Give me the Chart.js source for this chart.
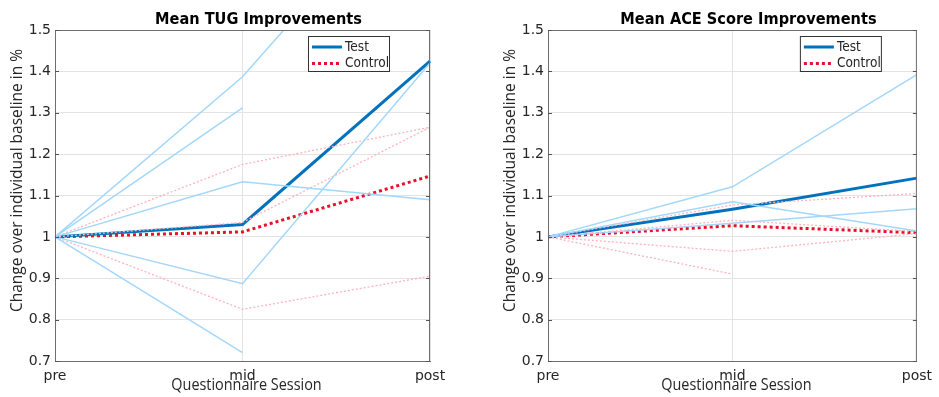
<!DOCTYPE html>
<html lang="en">
<head>
    <meta charset="UTF-8">
    <title>Mean TUG / ACE Improvements</title>
    <script src="https://cdn.jsdelivr.net/npm/chart.js"></script>
    <style>
        body { margin: 0; background: #fff; }
        .wrap { position: absolute; top: 0; height: 397px; }
        #left { left: 0; width: 470px; }
        #right { left: 470px; width: 469px; }
    </style>
</head>
<body>
    <div class="wrap" id="left"><canvas id="tugChart"></canvas></div>
    <div class="wrap" id="right"><canvas id="aceChart"></canvas></div>

    <script>
        // sessions on the x axis
        const sessions = ['pre', 'mid', 'post'];
        const yMin = 0.7, yMax = 1.5, yStep = 0.1;

        // TUG: group means
        const tugTestMean = [1, 1.03, 1.425];
        const tugControlMean = [1, 1.012, 1.147];
        // TUG: individual participants (null = missing session)
        const tugTestSubjects = [
            [1, 1.387, 1.9],
            [1, 1.312, null],
            [1, 1.133, 1.09],
            [1, 0.887, 1.42],
            [1, 0.72, null]
        ];
        const tugControlSubjects = [
            [1, 1.175, 1.265],
            [1, 1.035, 1.265],
            [1, 0.825, 0.905]
        ];

        // ACE: group means
        const aceTestMean = [1, 1.067, 1.142];
        const aceControlMean = [1, 1.027, 1.01];
        // ACE: individual participants
        const aceTestSubjects = [
            [1, 1.121, 1.392],
            [1, 1.085, 1.014],
            [1, 1.033, 1.068]
        ];
        const aceControlSubjects = [
            [1, 1.077, 1.105],
            [1, 1.04, 1.013],
            [1, 0.965, 1.008],
            [1, 0.91, null]
        ];

        const testColor = '#0072bd';
        const controlColor = '#e8102a';
        const testLight = '#a3d7fb';
        const controlLight = '#ffb3bd';
        const tickFont = 'DejaVu Sans';

        function buildDatasets(testMean, controlMean, testSubj, controlSubj) {
            const sets = [];
            testSubj.forEach(d => sets.push({
                label: '', data: d, borderColor: testLight, borderWidth: 1.5,
                pointRadius: 0, fill: false, tension: 0
            }));
            controlSubj.forEach(d => sets.push({
                label: '', data: d, borderColor: controlLight, borderWidth: 1.3,
                borderDash: [2, 2], pointRadius: 0, fill: false, tension: 0
            }));
            sets.push({
                label: 'Test', data: testMean, borderColor: testColor, borderWidth: 3,
                pointRadius: 0, fill: false, tension: 0
            });
            sets.push({
                label: 'Control', data: controlMean, borderColor: controlColor, borderWidth: 3,
                borderDash: [3, 3], pointRadius: 0, fill: false, tension: 0
            });
            return sets;
        }

        // text squeezed a little horizontally, like the original export
        function squeezedText(ctx, txt, x, y, sx) {
            ctx.save();
            ctx.translate(x, y);
            ctx.scale(sx, 1);
            ctx.fillText(txt, 0, 0);
            ctx.restore();
        }

        // draws title, axis labels, box, inward ticks and the legend (matlab style)
        const decorPlugin = {
            id: 'decor',
            afterDraw(chart, args, opts) {
                const ctx = chart.ctx;
                const a = chart.chartArea;
                const y = chart.scales.y;
                const cx = (a.left + a.right) / 2;
                ctx.save();

                // box
                ctx.strokeStyle = '#6e6e6e';
                ctx.lineWidth = 1;
                ctx.strokeRect(a.left + 0.5, a.top + 0.5, a.right - a.left - 1, a.bottom - a.top);

                // inward ticks
                ctx.strokeStyle = '#555';
                for (let v = yMin; v <= yMax + 1e-9; v += yStep) {
                    const py = Math.round(y.getPixelForValue(v)) + 0.5;
                    ctx.beginPath();
                    ctx.moveTo(a.left, py); ctx.lineTo(a.left + 4, py);
                    ctx.moveTo(a.right, py); ctx.lineTo(a.right - 4, py);
                    ctx.stroke();
                }

                // title
                ctx.fillStyle = '#000';
                ctx.font = 'bold 15px ' + tickFont;
                ctx.textAlign = 'center';
                ctx.textBaseline = 'middle';
                squeezedText(ctx, opts.title, cx + 16, 20, 0.97);

                // x label
                ctx.fillStyle = '#262626';
                ctx.font = '16px "Open Sans"';
                squeezedText(ctx, 'Questionnaire Session', cx + 4, 385, 0.9);

                // y label
                ctx.save();
                ctx.translate(a.left - 37, (a.top + a.bottom) / 2 - 15);
                ctx.rotate(-Math.PI / 2);
                ctx.font = '15.5px "Open Sans"';
                ctx.fillText('Change over individual baseline in %', 0, 0);
                ctx.restore();

                // legend
                const lx = a.right - opts.legendRight, ly = 36, lw = 81, lh = 35;
                ctx.fillStyle = '#fff';
                ctx.fillRect(lx, ly, lw, lh);
                ctx.strokeStyle = '#333';
                ctx.strokeRect(lx + 0.5, ly + 0.5, lw, lh);
                const items = chart.data.datasets.filter(d => d.label);
                items.forEach((d, i) => {
                    const iy = ly + 11 + i * 16.5;
                    ctx.beginPath();
                    ctx.strokeStyle = d.borderColor;
                    ctx.lineWidth = d.borderWidth;
                    ctx.setLineDash(d.borderDash || []);
                    ctx.moveTo(lx + 4, iy);
                    ctx.lineTo(lx + 34, iy);
                    ctx.stroke();
                    ctx.setLineDash([]);
                    ctx.fillStyle = '#262626';
                    ctx.font = '14px ' + tickFont;
                    ctx.textAlign = 'left';
                    squeezedText(ctx, d.label, lx + 37, iy, 0.87);
                });
                ctx.restore();
            }
        };

        function makeChart(id, datasets, title, padRight, legendRight) {
            return new Chart(document.getElementById(id), {
                type: 'line',
                data: { labels: sessions, datasets: datasets },
                options: {
                    responsive: true,
                    maintainAspectRatio: false,
                    animation: false,
                    spanGaps: false,
                    layout: { padding: { top: 30, right: padRight, left: 0, bottom: 0 } },
                    plugins: {
                        legend: { display: false },
                        tooltip: { enabled: false },
                        decor: { title: title, legendRight: legendRight }
                    },
                    scales: {
                        x: {
                            offset: false,
                            afterFit: s => { s.height = 36; },
                            grid: { color: '#e3e3e3', drawTicks: false },
                            border: { color: '#6e6e6e' },
                            ticks: { color: '#262626', padding: 7, font: { family: tickFont, size: 14 } }
                        },
                        y: {
                            min: yMin, max: yMax,
                            afterFit: s => { s.width = id === 'tugChart' ? 55 : 78; },
                            grid: { color: '#e3e3e3', drawTicks: false },
                            border: { color: '#6e6e6e' },
                            ticks: {
                                stepSize: yStep, padding: 4, color: '#262626',
                                font: { family: tickFont, size: 14 },
                                callback: v => (Math.round(v * 10) / 10).toString()
                            }
                        }
                    }
                },
                plugins: [decorPlugin]
            });
        }

        makeChart('tugChart',
            buildDatasets(tugTestMean, tugControlMean, tugTestSubjects, tugControlSubjects),
            'Mean TUG Improvements', 40, 122);
        makeChart('aceChart',
            buildDatasets(aceTestMean, aceControlMean, aceTestSubjects, aceControlSubjects),
            'Mean ACE Score Improvements', 17, 117);
    </script>
</body>
</html>
